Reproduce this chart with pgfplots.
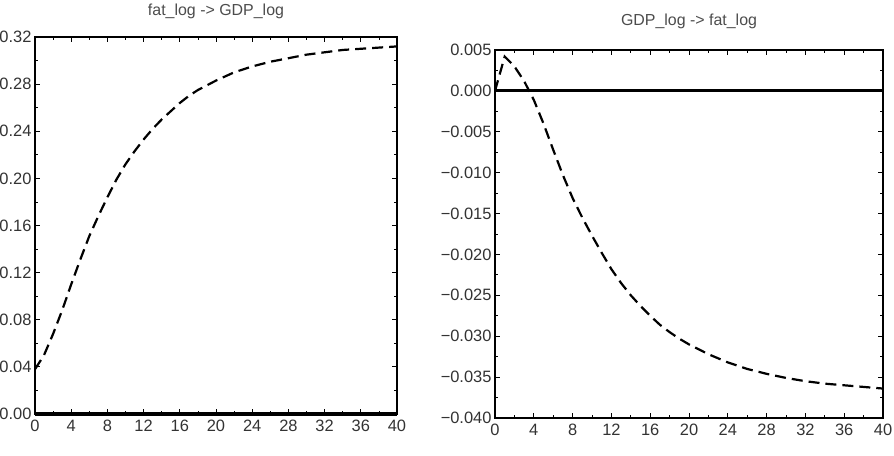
\documentclass[border=0pt]{standalone}
\usepackage{pgfplots}
\pgfplotsset{compat=1.18}
\usepackage{fontspec}
\setmainfont{Liberation Sans}
\begin{document}
\begin{tikzpicture}
\path[use as bounding box] (0bp,0bp) rectangle (894bp,456bp);
\pgfplotsset{
  irf/.style={
    scale only axis,
    axis line style={line width=1.8bp},
    tick style={black, line width=0.8bp},
    major tick length=5bp,
    minor tick length=3bp,
    xtick pos=both, ytick pos=both,
    tick align=inside,
    xmin=0, xmax=40,
    xtick={0,4,...,40},
    minor x tick num=1,
    minor y tick num=1,
    scaled y ticks=false,
    tick label style={font=\fontsize{16.5}{18}\selectfont, text=black!80},
    /pgf/number format/assume math mode=true,
    title style={font=\fontsize{16}{18}\selectfont, text=black!70, anchor=center, at={(0.5,1)}},
    xticklabel style={yshift=-3bp},
  }
}
\begin{axis}[irf,
  at={(35bp,42bp)}, anchor=south west,
  width=362bp, height=377bp,
  ymin=0, ymax=0.32,
  ytick={0,0.04,...,0.33},
  yticklabels={0.00,0.04,0.08,0.12,0.16,0.20,0.24,0.28,0.32},
  title={fat\_log -> GDP\_log},
  title style={yshift=20bp},
  clip=false,
]
\addplot[black, line width=3bp] coordinates {(0,0) (40,0)};
\addplot[black, line width=2.2bp, dash pattern=on 11bp off 6bp] coordinates {
(0,0.038) (1,0.050) (2,0.068) (3,0.088) (4,0.110) (5,0.131) (6,0.151) (7,0.168)
(8,0.184) (9,0.199) (10,0.212) (11,0.223) (12,0.233) (13,0.242) (14,0.250)
(15,0.257) (16,0.264) (17,0.270) (18,0.275) (19,0.279) (20,0.283) (22,0.290)
(24,0.295) (26,0.299) (28,0.302) (30,0.305) (32,0.307) (34,0.309) (36,0.310)
(38,0.311) (40,0.312)};
\end{axis}
\begin{axis}[irf,
  at={(495bp,38bp)}, anchor=south west,
  width=388bp, height=368bp,
  ymin=-0.04, ymax=0.005,
  ytick={-0.04,-0.035,-0.03,-0.025,-0.02,-0.015,-0.01,-0.005,0,0.005},
  yticklabels={−0.040,−0.035,−0.030,−0.025,−0.020,−0.015,−0.010,−0.005,0.000,0.005},
  title={GDP\_log -> fat\_log},
  title style={yshift=23bp},
]
\addplot[black, line width=3bp] coordinates {(0,0) (40,0)};
\addplot[black, line width=2.2bp, dash pattern=on 11bp off 6bp] coordinates {
(0,0) (1,0.0042) (2,0.0030) (3,0.0012) (4,-0.0011) (5,-0.0040) (6,-0.0072)
(7,-0.0103) (8,-0.0131) (9,-0.0155) (10,-0.0177) (11,-0.0198) (12,-0.0218)
(13,-0.0235) (14,-0.0250) (15,-0.0263) (16,-0.0275) (17,-0.0286) (18,-0.0295)
(19,-0.0303) (20,-0.0310) (22,-0.0322) (24,-0.0332) (26,-0.0340) (28,-0.0346)
(30,-0.0351) (32,-0.0355) (34,-0.0358) (36,-0.0360) (38,-0.0362) (40,-0.0364)};
\end{axis}
\end{tikzpicture}
\end{document}
